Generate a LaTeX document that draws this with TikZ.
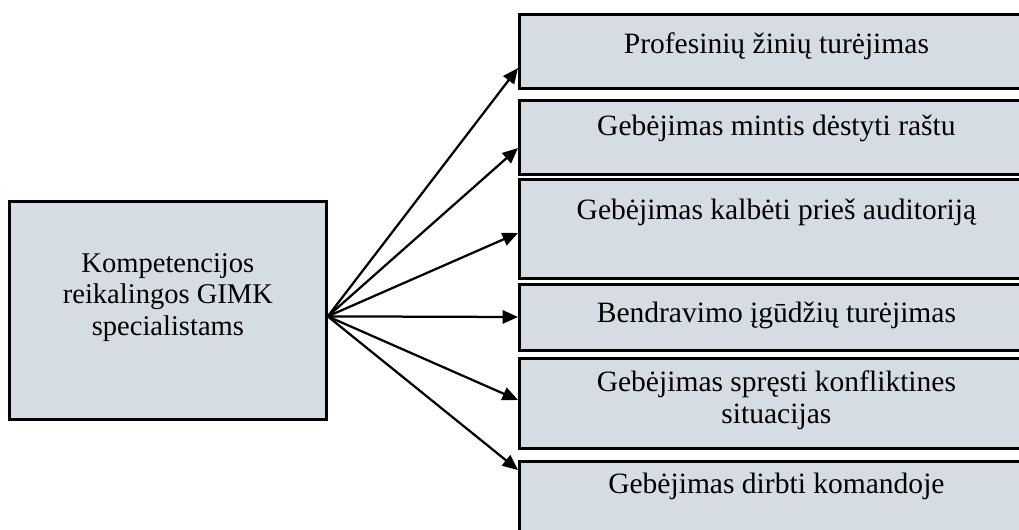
\documentclass[tikz,border=0pt]{standalone}
\usepackage{fontspec}
\setmainfont{Liberation Serif}
\usetikzlibrary{calc,arrows.meta}

\definecolor{boxfill}{RGB}{214,220,228}

\begin{document}
\begin{tikzpicture}
[x=0.025cm,y=-0.025cm,
	box/.style={draw,fill=boxfill,line width=1.9pt,anchor=north west,inner sep=0pt},
	txt/.style={font=\fontsize{21}{22.4}\selectfont,align=center,anchor=base,inner sep=0pt},
	arr/.style={line width=1.6pt,-{Triangle[length=11pt,width=9.5pt]}}]
\useasboundingbox (0,0) rectangle (1019,529);

\node[box,minimum width=7.925cm,minimum height=5.45cm] (komp) at (8,200) {};
\node[txt,font=\fontsize{20.3}{22.4}\selectfont] (kt) at ($(komp.north)+(0,135)$)
{Kompetencijos\\reikalingos GIMK\\specialistams};

\node[box,minimum width=12.85cm,minimum height=1.85cm] (s1) at (518,13) {};
\node[box,minimum width=12.85cm,minimum height=1.85cm] (s2) at (518,99) {};
\node[box,minimum width=12.85cm,minimum height=2.475cm] (s3) at (518,178) {};
\node[box,minimum width=12.85cm,minimum height=1.65cm] (s4) at (518,283) {};
\node[box,minimum width=12.85cm,minimum height=2.25cm] (s5) at (518,357) {};
\node[box,minimum width=12.85cm,minimum height=2.25cm] (s6) at (518,460) {};

\node[txt] (t1) at ($(s1.north)+(0,40)$) {Profesinių žinių turėjimas};
\node[txt] (t2) at ($(s2.north)+(0,36)$) {Gebėjimas mintis dėstyti raštu};
\node[txt] (t3) at ($(s3.north)+(0,41)$) {Gebėjimas kalbėti prieš auditoriją};
\node[txt] (t4) at ($(s4.north)+(0,39)$) {Bendravimo įgūdžių turėjimas};
\node[txt] (t5) at ($(s5.north)+(0,66)$) {Gebėjimas spręsti konfliktines\\situacijas};
\node[txt] (t6) at ($(s6.north)+(0,33)$) {Gebėjimas dirbti komandoje};

\coordinate (hub) at ($(komp.east)+(0,6)$);
\coordinate (e1) at ($(s1.north west)+(0,55)$);
\coordinate (e2) at ($(s2.north west)+(0,49)$);
\coordinate (e3) at ($(s3.north west)+(0,55)$);
\coordinate (e4) at ($(s4.north west)+(0,34)$);
\coordinate (e5) at ($(s5.north west)+(0,43)$);
\coordinate (e6) at ($(s6.north west)+(0,10)$);

\path
\foreach \endNode in {e1,e2,e3,e4,e5,e6}
{
	(hub) edge[arr] (\endNode)
};
\end{tikzpicture}
\end{document}
